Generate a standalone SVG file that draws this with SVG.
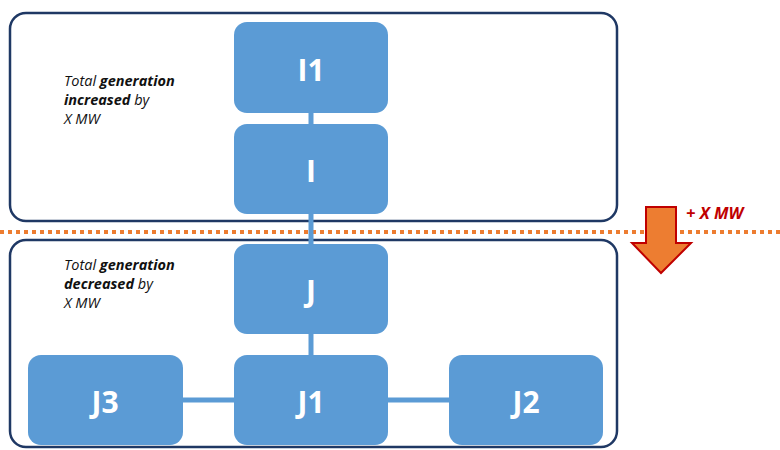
<svg xmlns="http://www.w3.org/2000/svg" width="780" height="450" viewBox="0 0 780 450">
<style>
.box{fill:none;stroke:#1F3864;stroke-width:2.5}
.node rect{fill:#5B9BD5}
.node text{fill:#fff;font-family:"Open Sans","Liberation Sans",sans-serif;font-weight:bold;font-size:30px;text-anchor:middle}
.conn{stroke:#5B9BD5;stroke-width:5;fill:none}
.lbl{font-family:"Open Sans","Liberation Sans",sans-serif;font-style:italic;font-size:14.5px;fill:#111}
.b{font-weight:bold}
</style>
<rect width="780" height="450" fill="#fff"/>
<rect class="box" x="10" y="13" width="607" height="208" rx="16"/>
<rect class="box" x="10" y="240" width="607" height="207" rx="16"/>
<line x1="0" y1="232" x2="780" y2="232" stroke="#ED7D31" stroke-width="4" stroke-dasharray="4 4"/>
<g id="connectors">
<line class="conn" x1="311" y1="113" x2="311" y2="124"/>
<line class="conn" x1="311" y1="214" x2="311" y2="244"/>
<line class="conn" x1="311" y1="334" x2="311" y2="355"/>
<line class="conn" x1="183" y1="400" x2="235" y2="400"/>
<line class="conn" x1="388" y1="400" x2="449" y2="400"/>
</g>
<g id="I1" class="node"><rect x="234" y="22" width="154" height="91" rx="13"/><text x="311" y="81">I1</text></g>
<g id="I" class="node"><rect x="234" y="124" width="154" height="90" rx="13"/><text x="311" y="182">I</text></g>
<g id="J" class="node"><rect x="234" y="244" width="154" height="90" rx="13"/><text x="311" y="302">J</text></g>
<g id="J1" class="node"><rect x="234" y="355" width="154" height="90" rx="13"/><text x="311" y="413">J1</text></g>
<g id="J3" class="node"><rect x="28" y="355" width="155" height="90" rx="13"/><text x="105" y="413">J3</text></g>
<g id="J2" class="node"><rect x="449" y="355" width="154" height="90" rx="13"/><text x="526" y="413">J2</text></g>
<text class="lbl" x="64" y="86">Total <tspan class="b">generation</tspan></text>
<text class="lbl" x="64" y="105"><tspan class="b">increased</tspan> by</text>
<text class="lbl" x="64" y="124">X MW</text>
<text class="lbl" x="64" y="270">Total <tspan class="b">generation</tspan></text>
<text class="lbl" x="64" y="289"><tspan class="b">decreased</tspan> by</text>
<text class="lbl" x="64" y="308">X MW</text>
<polygon points="646,207 676,207 676,243 691,243 661,273 632,243 646,243" fill="#ED7D31" stroke="#C00000" stroke-width="2"/>
<text x="686" y="219" font-family="'Open Sans','Liberation Sans',sans-serif" font-style="italic" font-weight="bold" font-size="16.5" fill="#C00000">+ X MW</text>
</svg>
